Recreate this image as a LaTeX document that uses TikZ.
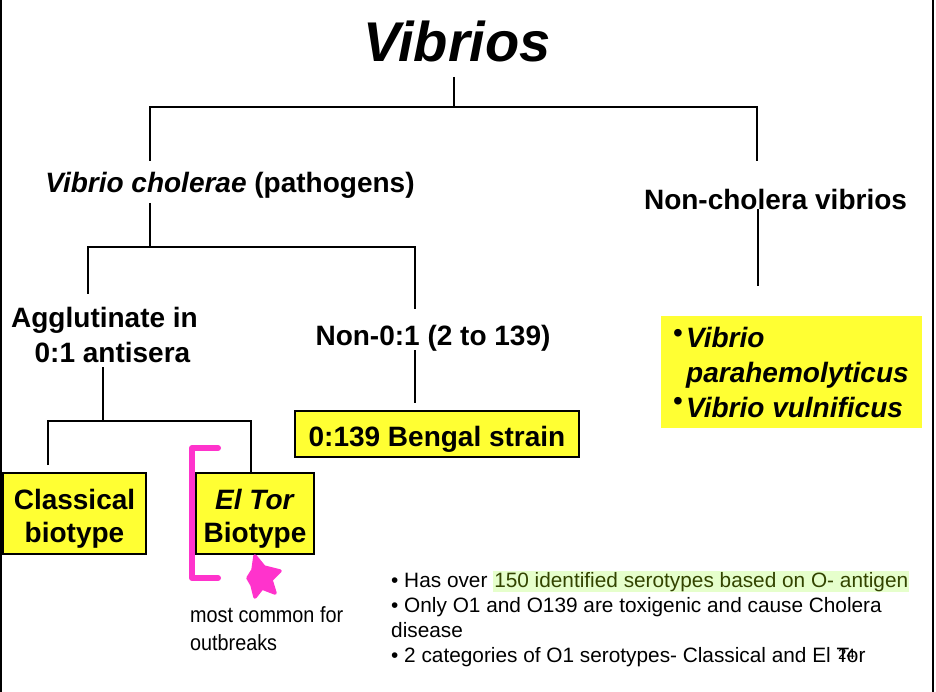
\documentclass[tikz,border=0pt]{standalone}
\usepackage{fontspec}
\setmainfont{Liberation Sans}
\usepackage{graphicx}
\definecolor{vyellow}{RGB}{255,255,51}
\definecolor{vpink}{RGB}{255,51,204}
\definecolor{hlbg}{RGB}{230,255,204}
\definecolor{hltext}{RGB}{51,68,0}
\newcommand{\hlgreen}[1]{{\setlength{\fboxsep}{1pt}\colorbox{hlbg}{\textcolor{hltext}{#1}}}}
\newcommand{\tallstrut}{\rule{0pt}{30pt}}
\tikzset{
  conn/.style={line width=1.6pt, black},
  lbl/.style={font=\fontsize{28}{35}\selectfont\bfseries, inner sep=0pt, align=center},
  ybox/.style={draw=black, line width=1.8pt, fill=vyellow, inner sep=0pt, align=center,
               font=\fontsize{28}{33}\selectfont\bfseries},
  pinkmark/.style={draw=vpink, line width=6pt, line cap=round, line join=round},
  bordline/.style={line width=2pt, black},
}
\begin{document}
\begin{tikzpicture}[x=1pt,y=-1pt]
\useasboundingbox (0,0) rectangle (936,692);
% page borders
\draw[bordline] (1,0) -- (1,692);
\draw[bordline] (933,0) -- (933,692);

% nodes
\node[font=\fontsize{56}{60}\selectfont\bfseries\itshape, anchor=base, inner sep=0pt] (title) at (457,62) {Vibrios};
\node[lbl, anchor=base] (vc) at (230,193) {\textit{Vibrio cholerae} (pathogens)};
\node[lbl, anchor=base] (nc) at (775.5,210) {Non-cholera vibrios};
\node[lbl, anchor=base] (agg) at (104.5,362) {Agglutinate in\\\hspace*{16pt}0:1 antisera};
\node[lbl, anchor=base] (non01) at (433,345) {Non-0:1 (2 to 139)};
\node[ybox, minimum width=284pt, minimum height=46pt] (bengal) at (437,434) {\tallstrut 0:139 Bengal strain};
\node[ybox, minimum width=143pt, minimum height=81pt] (classical) at (74.5,513.5) {\tallstrut Classical\\biotype};
\node[ybox, minimum width=118pt, minimum height=81pt] (eltor) at (255,513.5) {\tallstrut\textit{El Tor}\\Biotype};

\node[fill=vyellow, minimum width=261pt, minimum height=112pt, inner sep=0pt] (nvbox) at (791.5,372) {};
\node[anchor=base west, inner sep=0pt, align=left, font=\fontsize{28}{35}\selectfont\bfseries\itshape] (nvtext) at (686,417) {Vibrio\\parahemolyticus\\Vibrio vulnificus};
\node[anchor=base, inner sep=0pt, font=\fontsize{28}{28}\selectfont] (bul1) at (678,342) {•};
\node[anchor=base, inner sep=0pt, font=\fontsize{28}{28}\selectfont] (bul2) at (678,410) {•};

\node[anchor=base west, inner sep=0pt, align=left, font=\fontsize{22}{28}\selectfont] (mc) at (190,650) {\scalebox{0.9}[1]{most common for}\\\scalebox{0.9}[1]{outbreaks}};

\node[anchor=base west, inner sep=0pt, align=left, font=\fontsize{20.8}{25}\selectfont] (notes) at (391,662)
  {• Has over \hlgreen{150 identified serotypes based on O- antigen}\\
   • Only O1 and O139 are toxigenic and cause Cholera\\
   disease\\
   • 2 categories of O1 serotypes- Classical and El Tor};
\node[anchor=base west, inner sep=0pt, font=\fontsize{15}{15}\selectfont] (pg) at (838,659) {24};

% connector coordinates
\coordinate (r1a) at (454,77);
\coordinate (r1b) at (454,107);
\coordinate (r1l) at (150,107);
\coordinate (r1r) at (757,107);
\coordinate (vcTop) at (150,161);
\coordinate (ncTop) at (757,161);
\coordinate (vcBot) at (150,203);
\coordinate (j2) at (150,247);
\coordinate (j2l) at (88,247);
\coordinate (j2r) at (415,247);
\coordinate (aggTop) at (88,294);
\coordinate (nonTop) at (415,309);
\coordinate (aggBot) at (103,367);
\coordinate (j3) at (103,421);
\coordinate (j3l) at (48,421);
\coordinate (j3r) at (251,421);
\coordinate (clTop) at (48,465);
\coordinate (nonBot) at (415,350);
\coordinate (bengTop) at (415,403);
\coordinate (ncBot) at (758,209);
\coordinate (nvTop) at (758,286);

% connectors
\draw[conn] (r1a) -- (r1b);
\draw[conn] (vcTop) -- (r1l) -- (r1r) -- (ncTop);
\draw[conn] (vcBot) -- (j2);
\draw[conn] (aggTop) -- (j2l) -- (j2r) -- (nonTop);
\draw[conn] (aggBot) -- (j3);
\draw[conn] (clTop) -- (j3l) -- (j3r) -- (j3r |- eltor.north);
\draw[conn] (nonBot) -- (bengTop);
\draw[conn] (ncBot) -- (nvTop);

% pink hand marks
\draw[pinkmark] (218,448) -- (192,448) -- (192,578) -- (218,578);
\filldraw[vpink, line width=3.5pt, line join=round] (255,556) -- (264,567) -- (280,571) -- (271,580) -- (275,593) -- (262,588) -- (255,597) -- (252,585) -- (248,578) -- (253,570) -- cycle;
\end{tikzpicture}
\end{document}
